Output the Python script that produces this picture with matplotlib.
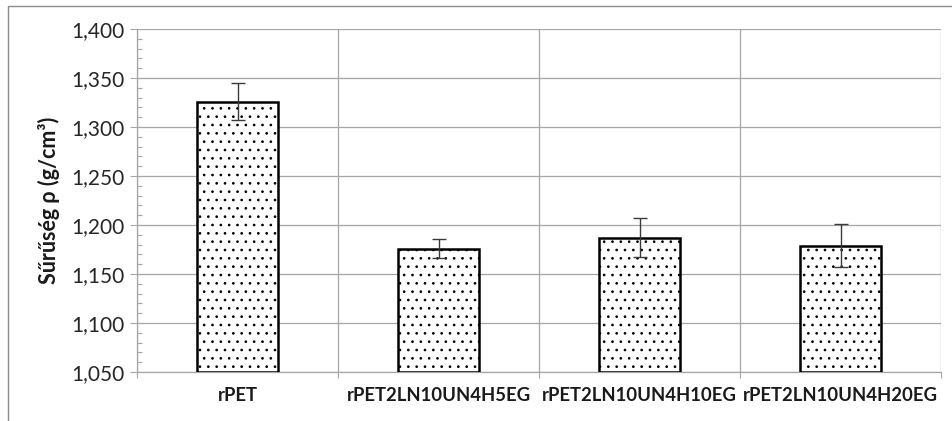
import numpy as np
import matplotlib.pyplot as plt
from matplotlib.patches import Rectangle
from matplotlib.ticker import MultipleLocator, FixedLocator, FuncFormatter

samples = ['rPET', 'rPET2LN10UN4H5EG', 'rPET2LN10UN4H10EG', 'rPET2LN10UN4H20EG']
density = [1.326, 1.176, 1.187, 1.179]
density_err = [0.019, 0.010, 0.020, 0.022]

plt.rcParams['font.family'] = ['Lato', 'DejaVu Sans']
plt.rcParams['hatch.linewidth'] = 0.7

grid_c = '#a6a6a6'
fig = plt.figure(figsize=(9.52, 4.21), dpi=100)
ax = fig.add_axes([137 / 952, 1 - 372 / 421, (941 - 137) / 952, (372 - 29) / 421])

x = np.arange(len(samples))
ax.bar(x, np.array(density) - 1.05, bottom=1.05, width=0.4, color='white',
       edgecolor='black', linewidth=1.8, hatch='..', zorder=3)
ax.errorbar(x, density, yerr=density_err, fmt='none', ecolor='#3a3a3a',
            elinewidth=1.0, capsize=5, capthick=1.0, zorder=4)

ax.set_xlim(-0.5, len(samples) - 0.5)
ax.set_ylim(1.05, 1.40)

ax.yaxis.set_major_locator(MultipleLocator(0.05))
ax.yaxis.set_minor_locator(MultipleLocator(0.01))
ax.yaxis.set_major_formatter(FuncFormatter(lambda v, p: f'{v:.3f}'.replace('.', ',')))
ax.tick_params(axis='y', which='major', direction='out', length=5, width=0.8,
               color=grid_c, labelsize=15, labelcolor='#262626', pad=4)
ax.tick_params(axis='y', which='minor', direction='in', length=3.5, width=0.8,
               color=grid_c)

ax.set_xticks(x)
ax.set_xticklabels(samples, fontweight='bold')
ax.xaxis.set_minor_locator(FixedLocator(np.arange(len(samples) + 1) - 0.5))
ax.tick_params(axis='x', which='major', length=0, labelsize=13.3, pad=11,
               labelcolor='#1a1a1a')
ax.tick_params(axis='x', which='minor', direction='out', length=4.5, width=0.8,
               color=grid_c)

ax.grid(axis='y', which='major', color=grid_c, linewidth=0.9, zorder=0)
ax.grid(axis='x', which='minor', color=grid_c, linewidth=0.9, zorder=0)
ax.set_axisbelow(True)

for side in ['top', 'right']:
    ax.spines[side].set_visible(False)
for side in ['left', 'bottom']:
    ax.spines[side].set_color(grid_c)
    ax.spines[side].set_linewidth(0.9)

ax.set_ylabel('Sűrűség ρ (g/cm³)', fontsize=15.5, fontweight='bold',
              color='#1a1a1a', labelpad=8)

# chart area border
fig.patches.append(Rectangle((8 / 952, -0.1), 1.2, 1.1 - 6 / 421,
                             transform=fig.transFigure, fill=False,
                             edgecolor='#8c8c8c', linewidth=1.0))

fig.savefig('out.png', dpi=100)
